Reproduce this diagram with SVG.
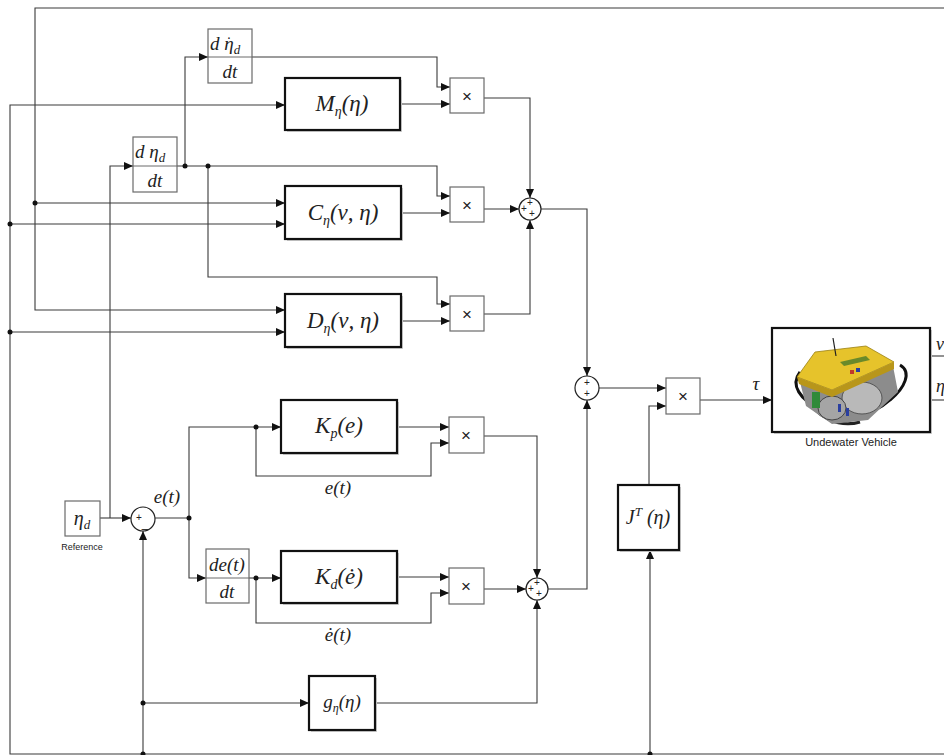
<svg xmlns="http://www.w3.org/2000/svg" width="944" height="755" viewBox="0 0 944 755">
<style>
.w{fill:none;stroke:#3a3a3a;stroke-width:1.1}
.arr{marker-end:url(#a)}
.thin{fill:#fff;stroke:#6a6a6a;stroke-width:1.2}
.thick{fill:#fff;stroke:#111;stroke-width:2.2}
.sh{fill:#cfcfcf;stroke:none}
.m{font-family:"Liberation Serif","DejaVu Serif",serif;font-style:italic;fill:#222}
.s{font-family:"Liberation Sans",Arial,sans-serif;fill:#222}
.dot{fill:#111}
.sum{fill:#fff;stroke:#222;stroke-width:1.2}
</style>
<defs>
<marker id="a" markerWidth="9" markerHeight="8" refX="9" refY="4" orient="auto" markerUnits="userSpaceOnUse"><path d="M0,0 L9,4 L0,8 z" fill="#111"/></marker>
</defs>
<rect width="944" height="755" fill="#fff"/>

<g id="connectors">
<path class="w arr" d="M944,8 H35 V310 H285"/>
<path class="w arr" d="M35,203 H285"/>
<path class="w arr" d="M944,754 H10 V105 H285"/>
<path class="w arr" d="M10,224 H285"/>
<path class="w arr" d="M10,332 H285"/>
<path class="w arr" d="M100,518 H131"/>
<path class="w arr" d="M110,518 V166 H133"/>
<path class="w arr" d="M177,166 H437 V196 H450"/>
<path class="w arr" d="M185,166 V57 H208"/>
<path class="w arr" d="M252,57 H437 V87 H450"/>
<path class="w arr" d="M208,166 V277 H437 V304 H450"/>
<path class="w arr" d="M400,104 H450"/>
<path class="w arr" d="M401,213 H450"/>
<path class="w arr" d="M401,321 H450"/>
<path class="w arr" d="M484,98 H530 V198"/>
<path class="w arr" d="M484,209 H519"/>
<path class="w arr" d="M484,314 H530 V220"/>
<path class="w arr" d="M541,209 H587 V376"/>
<path class="w arr" d="M599,388 H666"/>
<path class="w arr" d="M649,485 V406 H666"/>
<path class="w arr" d="M650,754 V550"/>
<path class="w arr" d="M700,400 H772"/>
<path class="w" d="M930,356 H944"/>
<path class="w" d="M930,400 H944"/>
<path class="w arr" d="M155,518 H189 V427 H281"/>
<path class="w arr" d="M189,518 V578 H206"/>
<path class="w arr" d="M256,427 V476 H431 V443 H449"/>
<path class="w arr" d="M397,427 H449"/>
<path class="w arr" d="M249,578 H281"/>
<path class="w arr" d="M256,578 V623 H431 V593 H449"/>
<path class="w arr" d="M397,577 H449"/>
<path class="w arr" d="M484,436 H537 V578"/>
<path class="w arr" d="M484,589 H526"/>
<path class="w arr" d="M375,703 H537 V600"/>
<path class="w arr" d="M548,589 H587 V400"/>
<path class="w arr" d="M143,754 V531"/>
<path class="w arr" d="M143,703 H309"/>
<circle class="dot" cx="35" cy="203" r="2.5"/>
<circle class="dot" cx="10" cy="224" r="2.5"/>
<circle class="dot" cx="10" cy="332" r="2.5"/>
<circle class="dot" cx="185" cy="166" r="2.5"/>
<circle class="dot" cx="208" cy="166" r="2.5"/>
<circle class="dot" cx="189" cy="518" r="2.5"/>
<circle class="dot" cx="256" cy="427" r="2.5"/>
<circle class="dot" cx="256" cy="578" r="2.5"/>
<circle class="dot" cx="143" cy="703" r="2.5"/>
<circle class="dot" cx="143" cy="754" r="2.5"/>
<circle class="dot" cx="650" cy="754" r="2.5"/>
<text class="m" x="167" y="503" font-size="19" text-anchor="middle">e(t)</text>
<text class="m" x="338" y="494" font-size="19" text-anchor="middle">e(t)</text>
<text class="m" x="338" y="641" font-size="19" text-anchor="middle">e&#775;(t)</text>
<text class="m" x="756" y="390" font-size="19" text-anchor="middle">τ</text>
</g>

<g id="deriv-eta-dot">
<rect class="thin" x="208" y="29" width="44" height="54"/>
<line x1="208" y1="57" x2="252" y2="57" stroke="#6a6a6a" stroke-width="1"/>
<text class="m" x="210" y="50" font-size="19">d η<tspan font-size="13" dy="4">d</tspan></text>
<text class="s" x="227" y="39" font-size="14">.</text>
<text class="m" x="230" y="78" font-size="19" text-anchor="middle">dt</text>
</g>

<g id="deriv-eta">
<rect class="thin" x="133" y="137" width="44" height="55"/>
<line x1="133" y1="166" x2="177" y2="166" stroke="#6a6a6a" stroke-width="1"/>
<text class="m" x="135" y="158" font-size="19">d η<tspan font-size="13" dy="4">d</tspan></text>
<text class="m" x="155" y="187" font-size="19" text-anchor="middle">dt</text>
</g>

<g id="M">
<rect class="sh" x="287" y="80" width="115" height="52"/>
<rect class="thick" x="285" y="78" width="115" height="52"/>
<text class="m" x="342" y="111" font-size="23" text-anchor="middle">M<tspan font-size="14" dy="5">η</tspan><tspan dy="-5">(η)</tspan></text>
</g>
<g id="C">
<rect class="sh" x="287" y="188" width="116" height="53"/>
<rect class="thick" x="285" y="186" width="116" height="53"/>
<text class="m" x="343" y="220" font-size="23" text-anchor="middle">C<tspan font-size="14" dy="5">η</tspan><tspan dy="-5">(ν, η)</tspan></text>
</g>
<g id="D">
<rect class="sh" x="287" y="296" width="116" height="53"/>
<rect class="thick" x="285" y="294" width="116" height="53"/>
<text class="m" x="343" y="328" font-size="23" text-anchor="middle">D<tspan font-size="14" dy="5">η</tspan><tspan dy="-5">(ν, η)</tspan></text>
</g>

<g id="mulM">
<rect class="thin" x="450" y="78" width="34" height="35"/>
<text class="s" x="467" y="102" font-size="17" text-anchor="middle">×</text>
</g>
<g id="mulC">
<rect class="thin" x="450" y="187" width="34" height="35"/>
<text class="s" x="467" y="211" font-size="17" text-anchor="middle">×</text>
</g>
<g id="mulD">
<rect class="thin" x="450" y="296" width="34" height="35"/>
<text class="s" x="467" y="320" font-size="17" text-anchor="middle">×</text>
</g>

<g id="sum1">
<circle class="sum" cx="530" cy="209" r="11"/>
<text class="s" x="530" y="206" font-size="10" text-anchor="middle">+</text>
<text class="s" x="524" y="212" font-size="10" text-anchor="middle">+</text>
<text class="s" x="532" y="217" font-size="10" text-anchor="middle">+</text>
</g>

<g id="sum3">
<circle class="sum" cx="587" cy="388" r="12"/>
<text class="s" x="587" y="386" font-size="10" text-anchor="middle">+</text>
<text class="s" x="587" y="397" font-size="10" text-anchor="middle">+</text>
</g>

<g id="mulJ">
<rect class="thin" x="666" y="378" width="34" height="36"/>
<text class="s" x="683" y="402" font-size="17" text-anchor="middle">×</text>
</g>

<g id="JT">
<rect class="sh" x="620" y="487" width="61" height="65"/>
<rect class="thick" x="618" y="485" width="61" height="65"/>
<text class="m" x="648" y="524" font-size="20" text-anchor="middle">J<tspan font-size="13" dy="-8">T</tspan><tspan dy="8"> (η)</tspan></text>
</g>

<g id="vehicle">
<rect class="sh" x="774" y="330" width="158" height="104"/>
<rect class="thick" x="772" y="328" width="158" height="104"/>
<path d="M800,372 C790,385 800,400 820,408 C845,420 870,418 890,400 C905,388 912,372 900,365" fill="none" stroke="#111" stroke-width="3"/>
<path d="M805,395 C815,418 840,428 860,422" fill="none" stroke="#222" stroke-width="3"/>
<polygon points="800,382 832,394 893,366 898,392 868,420 832,424 806,406" fill="#8c8c8c"/>
<ellipse cx="862" cy="398" rx="20" ry="16" fill="#b9b9b9" stroke="#555"/>
<ellipse cx="832" cy="408" rx="14" ry="12" fill="#a5a5a5" stroke="#444"/>
<rect x="812" y="392" width="8" height="16" fill="#2f8a3a"/>
<rect x="838" y="404" width="3" height="8" fill="#2a3fa0"/>
<rect x="846" y="408" width="3" height="8" fill="#2a3fa0"/>
<polygon points="797,377 815,352 866,346 894,362 832,390" fill="#e6c32b" stroke="#9a8012" stroke-width="0.8"/>
<polygon points="797,377 832,390 894,362 894,369 832,397 799,384" fill="#b8961a"/>
<polygon points="840,362 866,356 870,360 844,366" fill="#6a8a2a"/>
<rect x="850" y="370" width="4" height="4" fill="#c0392b"/>
<rect x="856" y="368" width="4" height="4" fill="#2a3fa0"/>
<line x1="836" y1="356" x2="833" y2="338" stroke="#222" stroke-width="1.2"/>
<text class="s" x="851" y="446" font-size="11" text-anchor="middle">Undewater Vehicle</text>
<text class="m" x="936" y="350" font-size="18" fill="#1a2a6a">ν</text>
<text class="m" x="936" y="392" font-size="18" fill="#1a2a6a">η</text>
</g>

<g id="reference">
<rect class="thin" x="65" y="501" width="35" height="35"/>
<text class="m" x="82" y="525" font-size="20" text-anchor="middle">η<tspan font-size="13" dy="4">d</tspan></text>
<text class="s" x="82" y="550" font-size="9" text-anchor="middle" fill="#444">Reference</text>
</g>

<g id="sumE">
<circle class="sum" cx="143" cy="519" r="12"/>
<text class="s" x="139" y="521" font-size="10" text-anchor="middle">+</text>
<text class="s" x="145" y="527" font-size="12" text-anchor="middle">_</text>
</g>

<g id="Kp">
<rect class="sh" x="283" y="402" width="116" height="53"/>
<rect class="thick" x="281" y="400" width="116" height="53"/>
<text class="m" x="339" y="433" font-size="23" text-anchor="middle">K<tspan font-size="14" dy="5">p</tspan><tspan dy="-5">(e)</tspan></text>
</g>

<g id="deriv-e">
<rect class="thin" x="206" y="549" width="43" height="54"/>
<line x1="206" y1="578" x2="249" y2="578" stroke="#6a6a6a" stroke-width="1"/>
<text class="m" x="227" y="571" font-size="19" text-anchor="middle">de(t)</text>
<text class="m" x="227" y="598" font-size="19" text-anchor="middle">dt</text>
</g>

<g id="Kd">
<rect class="sh" x="283" y="553" width="116" height="52"/>
<rect class="thick" x="281" y="551" width="116" height="52"/>
<text class="m" x="339" y="584" font-size="23" text-anchor="middle">K<tspan font-size="14" dy="5">d</tspan><tspan dy="-5">(e&#775;)</tspan></text>
</g>

<g id="mulKp">
<rect class="thin" x="449" y="417" width="35" height="36"/>
<text class="s" x="466" y="441" font-size="17" text-anchor="middle">×</text>
</g>
<g id="mulKd">
<rect class="thin" x="449" y="568" width="35" height="36"/>
<text class="s" x="466" y="592" font-size="17" text-anchor="middle">×</text>
</g>

<g id="sum2">
<circle class="sum" cx="537" cy="589" r="11"/>
<text class="s" x="537" y="586" font-size="10" text-anchor="middle">+</text>
<text class="s" x="531" y="592" font-size="10" text-anchor="middle">+</text>
<text class="s" x="539" y="597" font-size="10" text-anchor="middle">+</text>
</g>

<g id="g">
<rect class="sh" x="311" y="678" width="66" height="54"/>
<rect class="thick" x="309" y="676" width="66" height="54"/>
<text class="m" x="342" y="708" font-size="19" text-anchor="middle" fill="#555">g<tspan font-size="12" dy="4">η</tspan><tspan dy="-4">(η)</tspan></text>
</g>
</svg>
